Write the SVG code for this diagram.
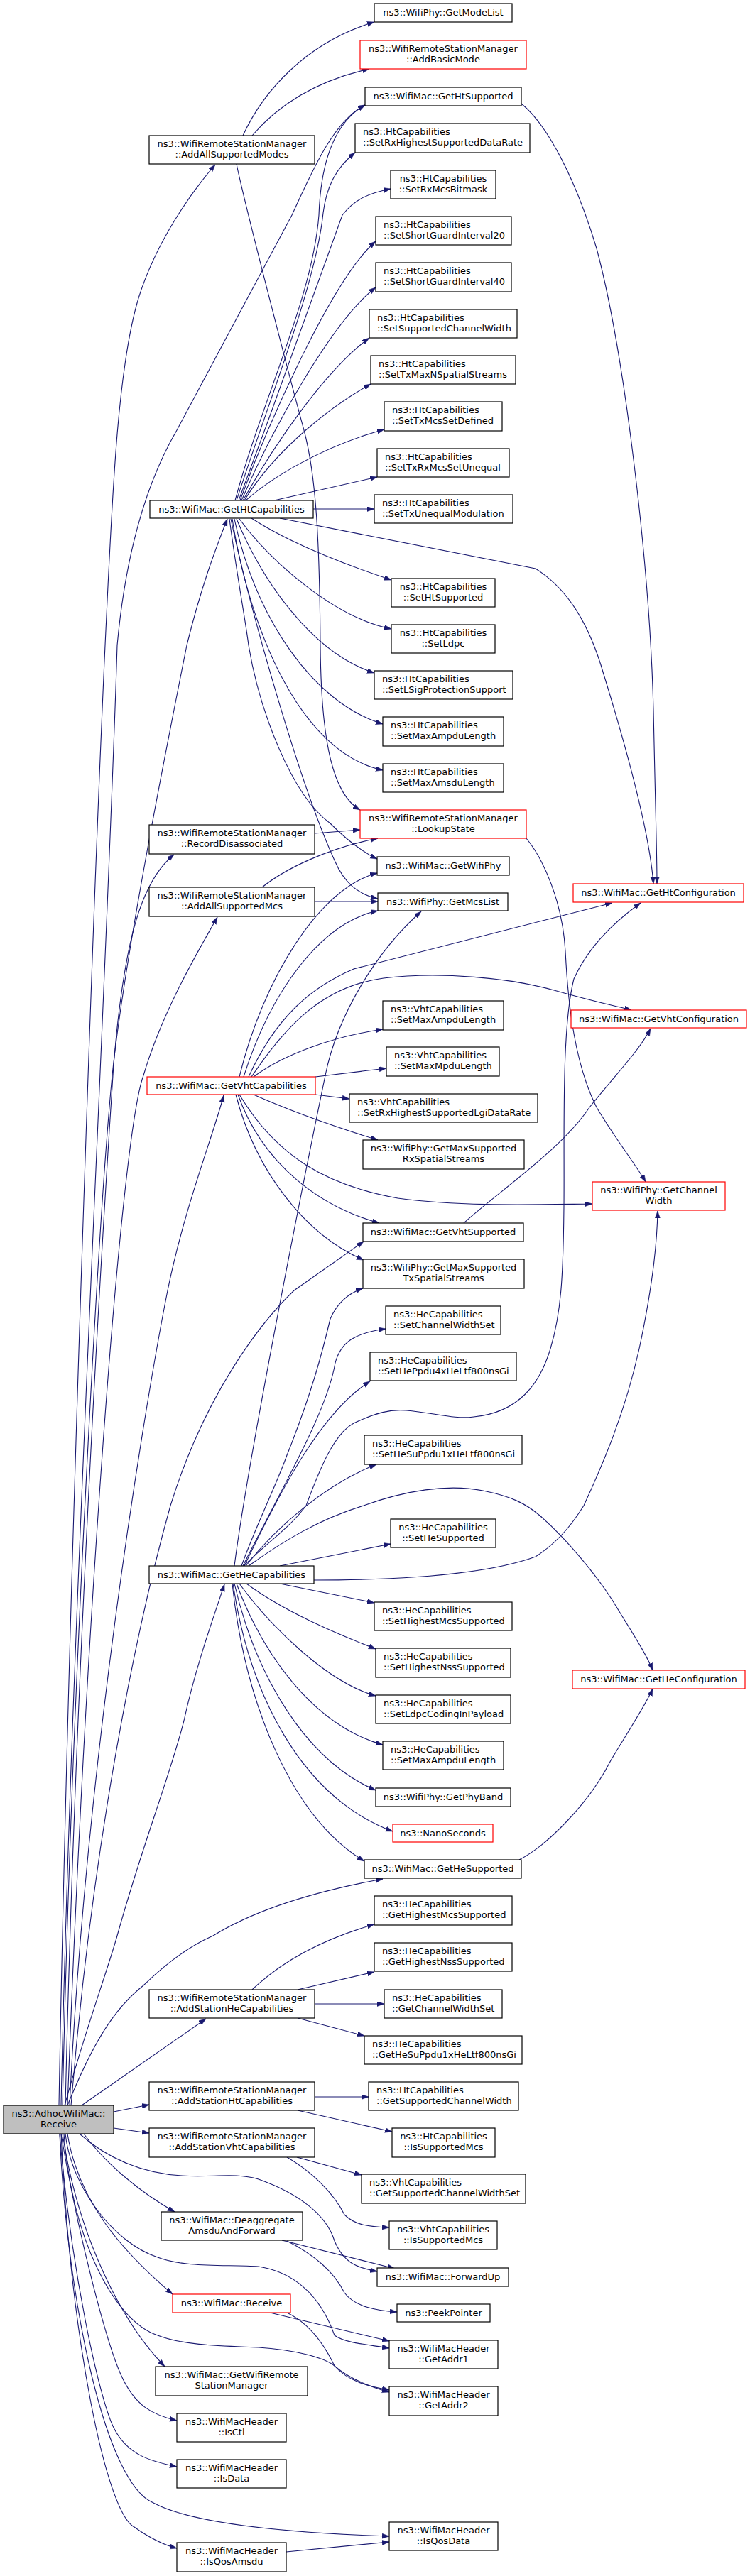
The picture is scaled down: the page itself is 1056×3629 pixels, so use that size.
<svg xmlns="http://www.w3.org/2000/svg" width="1056" height="3629" viewBox="0 0 1056 3629">
<style>
.n rect{fill:#fff;stroke:#000;stroke-width:1.2}
.r rect{stroke:#f00}
.root rect{fill:#bfbfbf}
text{font-family:"DejaVu Sans","Liberation Sans",sans-serif;font-size:13px;fill:#000}
.c text{text-anchor:middle}
.e path{fill:none;stroke:#191970;stroke-width:1.1;marker-end:url(#a)}
</style>
<defs>
<marker id="a" markerUnits="userSpaceOnUse" markerWidth="11" markerHeight="8" refX="10" refY="3.5" orient="auto">
<path d="M0,0 L10,3.5 L0,7 z" fill="#191970" stroke="#191970" stroke-width="0.5"/>
</marker>
</defs>
<rect width="1056" height="3629" fill="#fff"/>
<g id="edges" class="e">
<!-- Receive upward -->
<path d="M83,2966 C95,2300 130,1300 148,909 C158,700 165,520 195,420 C220,340 270,270 303,232"/>
<path d="M86,2966 C100,2300 150,1400 165,909 C175,800 200,690 249,606 L411,303 C440,240 470,170 514,148"/>
<path d="M88,2966 C100,2400 140,1700 158,1515 C175,1350 235,1050 263,909 C285,820 305,770 320,731"/>
<path d="M92,2966 C105,2400 140,1800 160,1500 C175,1320 200,1240 245,1204"/>
<path d="M95,2966 C120,2300 170,1600 202,1515 C230,1420 285,1330 306,1292"/>
<path d="M98,2966 C120,2500 200,2000 236,1818 C260,1700 300,1600 315,1543"/>
<path d="M100,2966 C130,2600 190,2300 240,2121 C290,1960 370,1860 414,1818 L512,1749"/>
<path d="M91,2966 C120,2860 150,2780 165,2727 C200,2600 240,2500 259,2424 C275,2350 300,2280 316,2232"/>
<path d="M95,2966 C130,2880 160,2830 202,2797 C240,2760 270,2740 300,2727 C360,2690 440,2665 539,2647"/>
<path d="M115,2966 L290,2844"/>
<path d="M160,2975 L210,2965"/>
<path d="M160,2998 L210,3005"/>
<!-- Receive downward -->
<path d="M118,3006 C150,3050 200,3090 246,3116"/>
<path d="M112,3006 C150,3040 200,3062 256,3065 C300,3068 330,3060 364,3070 C420,3090 460,3120 471,3157 C485,3190 505,3195 531,3200"/>
<path d="M95,3006 C110,3100 170,3170 243,3232"/>
<path d="M92,3006 C100,3080 160,3160 222,3180 C260,3195 320,3190 364,3193 C410,3200 450,3230 471,3290 C485,3300 510,3302 548,3308"/>
<path d="M90,3006 C100,3150 160,3270 222,3290 C260,3305 320,3305 364,3307 C410,3310 455,3320 471,3333 C490,3350 520,3362 548,3370"/>
<path d="M88,3006 C110,3150 170,3270 232,3334"/>
<path d="M86,3006 C110,3150 150,3300 170,3345 C190,3390 215,3402 249,3410"/>
<path d="M84,3006 C100,3200 140,3380 160,3420 C180,3460 215,3468 249,3475"/>
<path d="M84,3006 C95,3250 150,3500 216,3526 C270,3555 400,3568 548,3573"/>
<path d="M86,3006 C100,3300 150,3540 189,3560 C210,3575 230,3585 249,3590"/>
<!-- AddAllSupportedModes -->
<path d="M342,191 C370,130 430,60 527,31"/>
<path d="M355,191 C390,150 440,115 520,97"/>
<path d="M333,231 C345,290 410,540 428,606 C445,670 450,760 451,909 C452,1050 470,1120 507,1141"/>
<!-- GetHtSupported -->
<path d="M734,146 C770,175 810,250 840,350 C880,500 915,800 920,1000 C923,1150 925,1200 925,1245"/>
<!-- GetHtCapabilities up -->
<path d="M331,705 C370,560 440,420 449,303 C452,220 475,170 514,148"/>
<path d="M333,705 C380,560 445,400 455,300 C460,260 475,235 500,215"/>
<path d="M336,705 C390,560 455,380 482,303 C500,280 520,272 550,266"/>
<path d="M338,705 C380,590 470,390 529,340"/>
<path d="M340,705 C385,600 470,450 529,405"/>
<path d="M342,705 C390,620 460,520 520,476"/>
<path d="M344,705 C390,630 470,570 522,541"/>
<path d="M346,705 C380,675 450,630 541,605"/>
<path d="M386,705 L531,672"/>
<path d="M441,717 L527,717"/>
<!-- GetHtCapabilities down -->
<path d="M394,730 L754,801 C800,830 830,880 850,950 C890,1080 915,1180 920,1245"/>
<path d="M354,730 C400,760 470,790 551,817"/>
<path d="M337,731 C380,790 470,870 551,886"/>
<path d="M333,731 C370,820 440,920 527,948"/>
<path d="M330,731 C360,870 440,990 539,1020"/>
<path d="M327,731 C350,880 420,1060 539,1085"/>
<path d="M325,731 C350,850 420,1100 471,1212 C485,1245 505,1260 532,1266"/>
<path d="M323,731 C335,820 345,870 350,909 C365,1000 410,1120 465,1160 C490,1185 510,1200 531,1210"/>
<!-- RecordDisassociated, AddAllSupportedMcs -->
<path d="M443,1174 L507,1169"/>
<path d="M369,1250 C400,1225 460,1195 532,1181"/>
<path d="M443,1270 L532,1270"/>
<!-- LookupState -->
<path d="M741,1181 C765,1210 792,1270 796,1340 C800,1420 810,1500 840,1560 C870,1610 895,1640 909,1665"/>
<!-- GetVhtCapabilities up -->
<path d="M337,1517 C370,1380 450,1250 531,1230"/>
<path d="M343,1517 C380,1400 450,1300 532,1283"/>
<path d="M350,1517 C390,1430 440,1390 498,1365 L862,1272"/>
<path d="M354,1517 C400,1450 450,1390 540,1378 C620,1368 720,1378 780,1395 C840,1412 870,1418 889,1423"/>
<path d="M357,1517 C400,1485 470,1460 539,1450"/>
<path d="M444,1517 L544,1505"/>
<path d="M444,1542 L492,1548"/>
<!-- GetVhtCapabilities down -->
<path d="M357,1542 C420,1570 480,1590 532,1606"/>
<path d="M337,1542 C390,1630 460,1670 560,1688 C650,1700 750,1697 834,1696"/>
<path d="M335,1542 C370,1640 450,1700 534,1723"/>
<path d="M332,1542 C360,1650 430,1740 512,1775"/>
<!-- GetVhtSupported -->
<path d="M653,1723 C700,1680 790,1620 830,1560 C870,1510 900,1480 916,1449"/>
<!-- GetHeCapabilities up -->
<path d="M340,2206 C360,2150 390,2090 404,2050 C440,1960 455,1900 465,1858 C475,1835 490,1822 511,1815"/>
<path d="M342,2206 C400,2090 460,1990 472,1920 C480,1890 500,1878 543,1872"/>
<path d="M344,2206 C390,2110 450,1990 521,1946"/>
<path d="M346,2206 C390,2150 460,2090 530,2063"/>
<path d="M330,2206 C350,2050 430,1650 458,1515 C475,1430 530,1340 593,1284"/>
<path d="M343,2206 C380,2170 410,2150 431,2121 C450,2070 470,2020 498,2005 C530,1990 550,1985 572,1987 C610,1990 640,2000 667,1996 C730,1990 760,1950 775,1900 C790,1850 793,1800 794,1700 C795,1600 790,1450 808,1379 C830,1330 870,1295 902,1272"/>
<path d="M350,2206 C400,2170 450,2140 512,2121 C570,2100 630,2090 680,2100 C720,2108 740,2118 760,2135 C800,2170 840,2220 862,2254 C890,2300 910,2330 919,2353"/>
<path d="M442,2226 C550,2226 680,2220 754,2193 C790,2170 810,2140 822,2121 C850,2060 880,1990 900,1900 C915,1830 925,1760 926,1706"/>
<path d="M394,2206 L550,2175"/>
<!-- GetHeCapabilities down -->
<path d="M394,2231 L527,2258"/>
<path d="M347,2231 C400,2270 470,2300 529,2323"/>
<path d="M337,2231 C380,2290 460,2370 529,2389"/>
<path d="M333,2231 C370,2330 440,2430 539,2458"/>
<path d="M330,2231 C360,2360 430,2480 529,2522"/>
<path d="M328,2231 C350,2380 420,2530 553,2580"/>
<path d="M327,2231 C345,2400 410,2560 513,2622"/>
<!-- GetHeSupported -->
<path d="M731,2620 C770,2600 830,2540 860,2480 C890,2430 910,2400 919,2379"/>
<!-- AddStationHeCapabilities -->
<path d="M355,2803 C400,2760 460,2730 527,2711"/>
<path d="M419,2803 L527,2778"/>
<path d="M443,2823 L541,2823"/>
<path d="M419,2843 L513,2868"/>
<!-- AddStationHtCapabilities -->
<path d="M443,2954 L519,2954"/>
<path d="M419,2973 L552,3003"/>
<!-- AddStationVhtCapabilities -->
<path d="M418,3039 L509,3064"/>
<path d="M404,3039 C440,3060 470,3090 485,3120 C500,3135 520,3137 548,3138"/>
<!-- Deaggregate -->
<path d="M397,3156 L556,3196"/>
<path d="M404,3157 C440,3175 470,3200 485,3230 C500,3250 530,3255 559,3257"/>
<!-- WifiMac::Receive -->
<path d="M380,3258 L548,3298"/>
<path d="M404,3258 C440,3275 460,3310 471,3333 C490,3355 520,3362 548,3367"/>
<!-- IsQosAmsdu -->
<path d="M403,3595 L548,3581"/>
</g>

<g id="n_receive" class="n c root"><rect x="5" y="2966" width="155" height="40"/><text x="82.5" y="2982">ns3::AdhocWifiMac::</text><text x="82.5" y="2996.5">Receive</text></g>

<g id="n_addallmodes" class="n c"><rect x="210" y="191" width="233" height="40"/><text x="326.5" y="207">ns3::WifiRemoteStationManager</text><text x="326.5" y="221.5">::AddAllSupportedModes</text></g>
<g id="n_gethtcap" class="n c"><rect x="211" y="705" width="230" height="25"/><text x="326" y="722">ns3::WifiMac::GetHtCapabilities</text></g>
<g id="n_recorddis" class="n c"><rect x="210" y="1162" width="233" height="41"/><text x="326.5" y="1178">ns3::WifiRemoteStationManager</text><text x="326.5" y="1192.5">::RecordDisassociated</text></g>
<g id="n_addallmcs" class="n c"><rect x="210" y="1250" width="233" height="41"/><text x="326.5" y="1266">ns3::WifiRemoteStationManager</text><text x="326.5" y="1280.5">::AddAllSupportedMcs</text></g>
<g id="n_getvhtcap" class="n c r"><rect x="207" y="1517" width="237" height="25"/><text x="325.5" y="1534">ns3::WifiMac::GetVhtCapabilities</text></g>
<g id="n_gethecap" class="n c"><rect x="210" y="2206" width="232" height="25"/><text x="326" y="2223">ns3::WifiMac::GetHeCapabilities</text></g>
<g id="n_addstahe" class="n c"><rect x="210" y="2803" width="233" height="40"/><text x="326.5" y="2819">ns3::WifiRemoteStationManager</text><text x="326.5" y="2833.5">::AddStationHeCapabilities</text></g>
<g id="n_addstaht" class="n c"><rect x="210" y="2933" width="233" height="40"/><text x="326.5" y="2949">ns3::WifiRemoteStationManager</text><text x="326.5" y="2963.5">::AddStationHtCapabilities</text></g>
<g id="n_addstavht" class="n c"><rect x="210" y="2998" width="233" height="41"/><text x="326.5" y="3014">ns3::WifiRemoteStationManager</text><text x="326.5" y="3028.5">::AddStationVhtCapabilities</text></g>
<g id="n_deagg" class="n c"><rect x="227" y="3116" width="199" height="40"/><text x="326.5" y="3132">ns3::WifiMac::Deaggregate</text><text x="326.5" y="3146.5">AmsduAndForward</text></g>
<g id="n_macreceive" class="n c r"><rect x="243" y="3232" width="166" height="26"/><text x="326" y="3249">ns3::WifiMac::Receive</text></g>
<g id="n_getwrsm" class="n c"><rect x="219" y="3334" width="214" height="41"/><text x="326" y="3350">ns3::WifiMac::GetWifiRemote</text><text x="326" y="3364.5">StationManager</text></g>
<g id="n_isctl" class="n c"><rect x="249" y="3400" width="154" height="40"/><text x="326" y="3416">ns3::WifiMacHeader</text><text x="326" y="3430.5">::IsCtl</text></g>
<g id="n_isdata" class="n c"><rect x="249" y="3465" width="154" height="40"/><text x="326" y="3481">ns3::WifiMacHeader</text><text x="326" y="3495.5">::IsData</text></g>
<g id="n_isqosamsdu" class="n c"><rect x="249" y="3582" width="154" height="41"/><text x="326" y="3598">ns3::WifiMacHeader</text><text x="326" y="3612.5">::IsQosAmsdu</text></g>

<g id="n_getmodelist" class="n c"><rect x="527" y="5" width="194" height="26"/><text x="624" y="22">ns3::WifiPhy::GetModeList</text></g>
<g id="n_addbasicmode" class="n c r"><rect x="507" y="57" width="234" height="40"/><text x="624" y="73">ns3::WifiRemoteStationManager</text><text x="624" y="87.5">::AddBasicMode</text></g>
<g id="n_gethtsupported" class="n c"><rect x="514" y="123" width="220" height="26"/><text x="624" y="140">ns3::WifiMac::GetHtSupported</text></g>
<g id="n_setrxhsdr" class="n"><rect x="500" y="174" width="246" height="41"/><text x="511" y="190">ns3::HtCapabilities</text><text x="511" y="204.5">::SetRxHighestSupportedDataRate</text></g>
<g id="n_setrxmcsbitmask" class="n c"><rect x="550" y="240" width="148" height="40"/><text x="624" y="256">ns3::HtCapabilities</text><text x="624" y="270.5">::SetRxMcsBitmask</text></g>
<g id="n_setsgi20" class="n"><rect x="529" y="305" width="191" height="40"/><text x="540" y="321">ns3::HtCapabilities</text><text x="540" y="335.5">::SetShortGuardInterval20</text></g>
<g id="n_setsgi40" class="n"><rect x="529" y="370" width="191" height="41"/><text x="540" y="386">ns3::HtCapabilities</text><text x="540" y="400.5">::SetShortGuardInterval40</text></g>
<g id="n_setsupcw" class="n"><rect x="520" y="436" width="208" height="40"/><text x="531" y="452">ns3::HtCapabilities</text><text x="531" y="466.5">::SetSupportedChannelWidth</text></g>
<g id="n_settxmaxnss" class="n"><rect x="522" y="501" width="204" height="40"/><text x="533" y="517">ns3::HtCapabilities</text><text x="533" y="531.5">::SetTxMaxNSpatialStreams</text></g>
<g id="n_settxmcssetdef" class="n"><rect x="541" y="566" width="166" height="41"/><text x="552" y="582">ns3::HtCapabilities</text><text x="552" y="596.5">::SetTxMcsSetDefined</text></g>
<g id="n_settxrxmcsuneq" class="n"><rect x="531" y="632" width="186" height="40"/><text x="542" y="648">ns3::HtCapabilities</text><text x="542" y="662.5">::SetTxRxMcsSetUnequal</text></g>
<g id="n_settxuneqmod" class="n"><rect x="527" y="697" width="195" height="40"/><text x="538" y="713">ns3::HtCapabilities</text><text x="538" y="727.5">::SetTxUnequalModulation</text></g>
<g id="n_sethtsupported" class="n c"><rect x="551" y="815" width="146" height="40"/><text x="624" y="831">ns3::HtCapabilities</text><text x="624" y="845.5">::SetHtSupported</text></g>
<g id="n_setldpc" class="n c"><rect x="551" y="880" width="146" height="40"/><text x="624" y="896">ns3::HtCapabilities</text><text x="624" y="910.5">::SetLdpc</text></g>
<g id="n_setlsig" class="n"><rect x="527" y="945" width="195" height="40"/><text x="538" y="961">ns3::HtCapabilities</text><text x="538" y="975.5">::SetLSigProtectionSupport</text></g>
<g id="n_htsetmaxampdu" class="n"><rect x="539" y="1010" width="170" height="41"/><text x="550" y="1026">ns3::HtCapabilities</text><text x="550" y="1040.5">::SetMaxAmpduLength</text></g>
<g id="n_setmaxamsdu" class="n"><rect x="539" y="1076" width="170" height="40"/><text x="550" y="1092">ns3::HtCapabilities</text><text x="550" y="1106.5">::SetMaxAmsduLength</text></g>
<g id="n_lookupstate" class="n c r"><rect x="507" y="1141" width="234" height="40"/><text x="624" y="1157">ns3::WifiRemoteStationManager</text><text x="624" y="1171.5">::LookupState</text></g>
<g id="n_getwifiphy" class="n c"><rect x="531" y="1207" width="186" height="26"/><text x="624" y="1224">ns3::WifiMac::GetWifiPhy</text></g>
<g id="n_getmcslist" class="n c"><rect x="532" y="1258" width="183" height="25"/><text x="623.5" y="1275">ns3::WifiPhy::GetMcsList</text></g>
<g id="n_vhtsetmaxampdu" class="n"><rect x="539" y="1410" width="170" height="41"/><text x="550" y="1426">ns3::VhtCapabilities</text><text x="550" y="1440.5">::SetMaxAmpduLength</text></g>
<g id="n_vhtsetmaxmpdu" class="n"><rect x="544" y="1475" width="159" height="41"/><text x="555" y="1491">ns3::VhtCapabilities</text><text x="555" y="1505.5">::SetMaxMpduLength</text></g>
<g id="n_setrxhslgi" class="n"><rect x="492" y="1541" width="265" height="40"/><text x="503" y="1557">ns3::VhtCapabilities</text><text x="503" y="1571.5">::SetRxHighestSupportedLgiDataRate</text></g>
<g id="n_getmaxrxss" class="n c"><rect x="511" y="1606" width="227" height="41"/><text x="624.5" y="1622">ns3::WifiPhy::GetMaxSupported</text><text x="624.5" y="1636.5">RxSpatialStreams</text></g>
<g id="n_getvhtsupported" class="n c"><rect x="511" y="1723" width="226" height="26"/><text x="624" y="1740">ns3::WifiMac::GetVhtSupported</text></g>
<g id="n_getmaxtxss" class="n c"><rect x="511" y="1774" width="227" height="41"/><text x="624.5" y="1790">ns3::WifiPhy::GetMaxSupported</text><text x="624.5" y="1804.5">TxSpatialStreams</text></g>
<g id="n_hesetcws" class="n"><rect x="543" y="1840" width="162" height="40"/><text x="554" y="1856">ns3::HeCapabilities</text><text x="554" y="1870.5">::SetChannelWidthSet</text></g>
<g id="n_sethe4x" class="n"><rect x="521" y="1905" width="206" height="40"/><text x="532" y="1921">ns3::HeCapabilities</text><text x="532" y="1935.5">::SetHePpdu4xHeLtf800nsGi</text></g>
<g id="n_sethesu1x" class="n"><rect x="513" y="2022" width="222" height="41"/><text x="524" y="2038">ns3::HeCapabilities</text><text x="524" y="2052.5">::SetHeSuPpdu1xHeLtf800nsGi</text></g>
<g id="n_sethesupported" class="n c"><rect x="550" y="2140" width="148" height="40"/><text x="624" y="2156">ns3::HeCapabilities</text><text x="624" y="2170.5">::SetHeSupported</text></g>
<g id="n_sethighmcs" class="n"><rect x="527" y="2257" width="194" height="40"/><text x="538" y="2273">ns3::HeCapabilities</text><text x="538" y="2287.5">::SetHighestMcsSupported</text></g>
<g id="n_sethighnss" class="n"><rect x="529" y="2322" width="190" height="41"/><text x="540" y="2338">ns3::HeCapabilities</text><text x="540" y="2352.5">::SetHighestNssSupported</text></g>
<g id="n_setldpcpayload" class="n"><rect x="529" y="2388" width="190" height="40"/><text x="540" y="2404">ns3::HeCapabilities</text><text x="540" y="2418.5">::SetLdpcCodingInPayload</text></g>
<g id="n_hesetmaxampdu" class="n"><rect x="539" y="2453" width="170" height="40"/><text x="550" y="2469">ns3::HeCapabilities</text><text x="550" y="2483.5">::SetMaxAmpduLength</text></g>
<g id="n_getphyband" class="n c"><rect x="529" y="2519" width="190" height="26"/><text x="624" y="2536">ns3::WifiPhy::GetPhyBand</text></g>
<g id="n_nanoseconds" class="n c r"><rect x="553" y="2570" width="141" height="25"/><text x="623.5" y="2587">ns3::NanoSeconds</text></g>
<g id="n_gethesupported" class="n c"><rect x="513" y="2620" width="221" height="26"/><text x="623.5" y="2637">ns3::WifiMac::GetHeSupported</text></g>
<g id="n_gethighmcs" class="n"><rect x="527" y="2671" width="194" height="41"/><text x="538" y="2687">ns3::HeCapabilities</text><text x="538" y="2701.5">::GetHighestMcsSupported</text></g>
<g id="n_gethighnss" class="n"><rect x="527" y="2737" width="194" height="40"/><text x="538" y="2753">ns3::HeCapabilities</text><text x="538" y="2767.5">::GetHighestNssSupported</text></g>
<g id="n_getcws" class="n"><rect x="541" y="2803" width="166" height="40"/><text x="552" y="2819">ns3::HeCapabilities</text><text x="552" y="2833.5">::GetChannelWidthSet</text></g>
<g id="n_gethesu1x" class="n"><rect x="513" y="2868" width="222" height="40"/><text x="524" y="2884">ns3::HeCapabilities</text><text x="524" y="2898.5">::GetHeSuPpdu1xHeLtf800nsGi</text></g>
<g id="n_getsupcw" class="n"><rect x="519" y="2933" width="211" height="40"/><text x="530" y="2949">ns3::HtCapabilities</text><text x="530" y="2963.5">::GetSupportedChannelWidth</text></g>
<g id="n_htissupmcs" class="n c"><rect x="552" y="2998" width="145" height="41"/><text x="624.5" y="3014">ns3::HtCapabilities</text><text x="624.5" y="3028.5">::IsSupportedMcs</text></g>
<g id="n_getsupcwset" class="n"><rect x="509" y="3063" width="231" height="41"/><text x="520" y="3079">ns3::VhtCapabilities</text><text x="520" y="3093.5">::GetSupportedChannelWidthSet</text></g>
<g id="n_vhtissupmcs" class="n c"><rect x="548" y="3129" width="152" height="40"/><text x="624" y="3145">ns3::VhtCapabilities</text><text x="624" y="3159.5">::IsSupportedMcs</text></g>
<g id="n_forwardup" class="n c"><rect x="531" y="3195" width="185" height="26"/><text x="623.5" y="3212">ns3::WifiMac::ForwardUp</text></g>
<g id="n_peekpointer" class="n c"><rect x="559" y="3246" width="131" height="25"/><text x="624.5" y="3263">ns3::PeekPointer</text></g>
<g id="n_getaddr1" class="n c"><rect x="548" y="3297" width="153" height="40"/><text x="624.5" y="3313">ns3::WifiMacHeader</text><text x="624.5" y="3327.5">::GetAddr1</text></g>
<g id="n_getaddr2" class="n c"><rect x="548" y="3362" width="153" height="41"/><text x="624.5" y="3378">ns3::WifiMacHeader</text><text x="624.5" y="3392.5">::GetAddr2</text></g>
<g id="n_isqosdata" class="n c"><rect x="548" y="3553" width="153" height="40"/><text x="624.5" y="3569">ns3::WifiMacHeader</text><text x="624.5" y="3583.5">::IsQosData</text></g>

<g id="n_gethtconf" class="n c r"><rect x="807" y="1245" width="240" height="26"/><text x="927" y="1262">ns3::WifiMac::GetHtConfiguration</text></g>
<g id="n_getvhtconf" class="n c r"><rect x="804" y="1423" width="247" height="25"/><text x="927.5" y="1440">ns3::WifiMac::GetVhtConfiguration</text></g>
<g id="n_getchanwidth" class="n c r"><rect x="834" y="1665" width="187" height="40"/><text x="927.5" y="1681">ns3::WifiPhy::GetChannel</text><text x="927.5" y="1695.5">Width</text></g>
<g id="n_gethe_conf" class="n c r"><rect x="806" y="2353" width="243" height="26"/><text x="927.5" y="2370">ns3::WifiMac::GetHeConfiguration</text></g>
</svg>
